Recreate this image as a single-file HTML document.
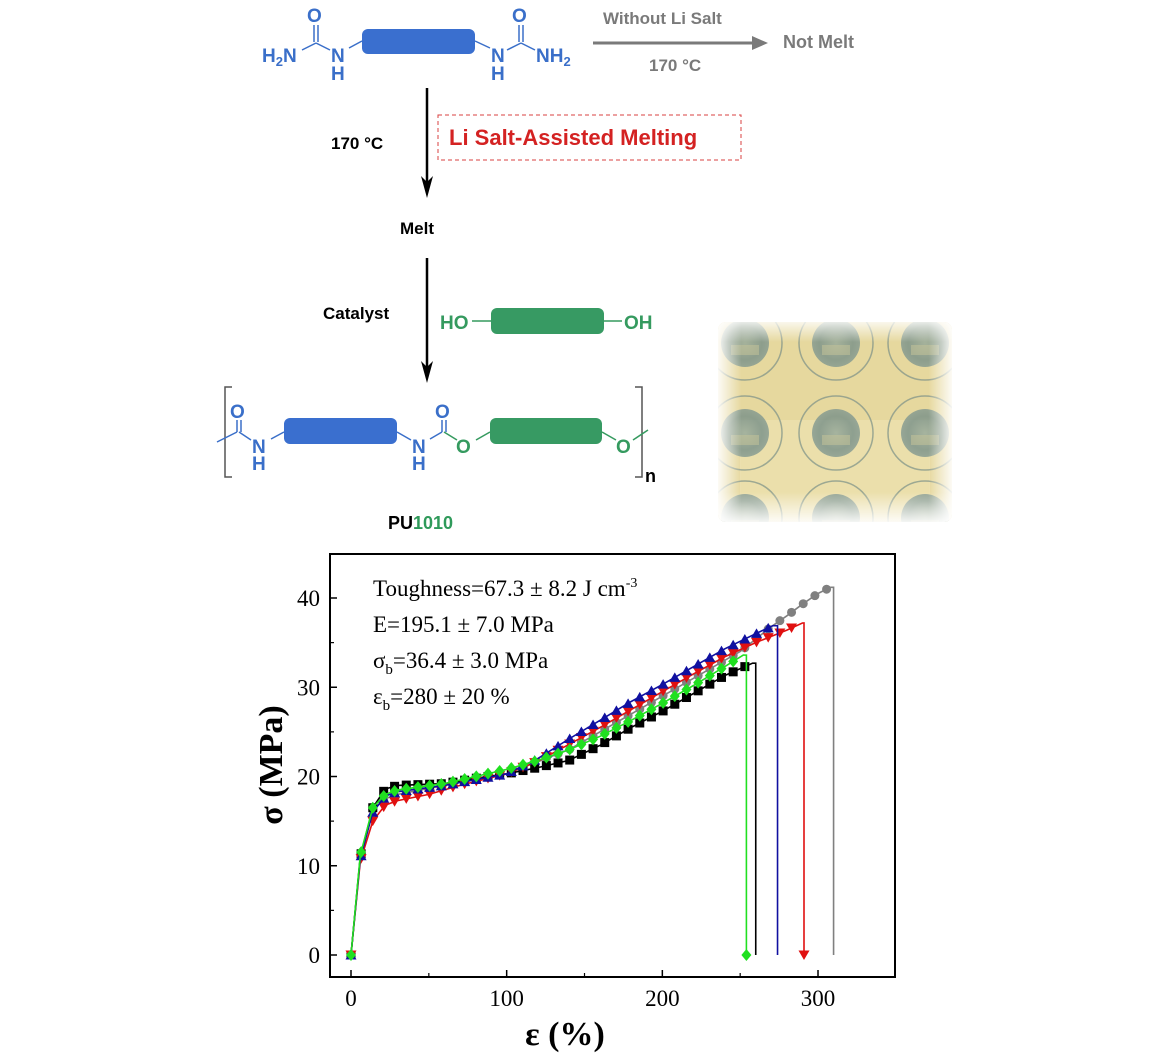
<!DOCTYPE html>
<html><head><meta charset="utf-8"><style>
body{margin:0;background:#fff;width:1166px;height:1060px;overflow:hidden}
svg{display:block}
.sans{font-family:"Liberation Sans",Arial,sans-serif;font-weight:bold}
.serif{font-family:"Liberation Serif","Times New Roman",serif}
</style></head><body>
<svg id="s" width="1166" height="1060" viewBox="0 0 1166 1060" xmlns="http://www.w3.org/2000/svg">
<defs>
<radialGradient id="st" cx="50%" cy="50%" r="50%"><stop offset="0" stop-color="#8fa59a"/><stop offset="0.7" stop-color="#6f8a86"/><stop offset="1" stop-color="#7b948f"/></radialGradient>
<clipPath id="pc"><rect x="718" y="322" width="234" height="200" rx="8"/></clipPath>
<linearGradient id="fl" x1="0" x2="1"><stop offset="0" stop-color="#fff" stop-opacity="0.9"/><stop offset="0.1" stop-color="#fff" stop-opacity="0"/><stop offset="0.9" stop-color="#fff" stop-opacity="0"/><stop offset="1" stop-color="#fff" stop-opacity="0.9"/></linearGradient>
<linearGradient id="fv" x1="0" x2="0" y1="0" y2="1"><stop offset="0" stop-color="#fff" stop-opacity="0.8"/><stop offset="0.1" stop-color="#fff" stop-opacity="0"/><stop offset="0.85" stop-color="#fff" stop-opacity="0"/><stop offset="1" stop-color="#fff" stop-opacity="0.9"/></linearGradient>
</defs>
<!-- top scheme -->
<g class="sans" fill="#3a6fc9" font-size="19">
<rect x="362" y="29" width="113" height="25" rx="6" fill="#3a6fcf"/>
<text x="262" y="62">H<tspan font-size="13" dy="4">2</tspan><tspan dy="-4">N</tspan></text>
<text x="307" y="22">O</text>
<line x1="314" y1="25" x2="314" y2="42" stroke="#3a6fc9" stroke-width="1.5"/><line x1="318" y1="25" x2="318" y2="42" stroke="#3a6fc9" stroke-width="1.5"/>
<line x1="302" y1="50" x2="316" y2="43" stroke="#3a6fc9" stroke-width="1.5"/><line x1="316" y1="43" x2="330" y2="50" stroke="#3a6fc9" stroke-width="1.5"/>
<text x="331" y="62">N</text><text x="331" y="80">H</text>
<line x1="349" y1="48" x2="362" y2="41" stroke="#3a6fc9" stroke-width="1.5"/>
<line x1="475" y1="41" x2="490" y2="48" stroke="#3a6fc9" stroke-width="1.5"/>
<text x="491" y="62">N</text><text x="491" y="80">H</text>
<text x="512" y="22">O</text>
<line x1="519" y1="25" x2="519" y2="42" stroke="#3a6fc9" stroke-width="1.5"/><line x1="523" y1="25" x2="523" y2="42" stroke="#3a6fc9" stroke-width="1.5"/>
<line x1="507" y1="50" x2="521" y2="43" stroke="#3a6fc9" stroke-width="1.5"/><line x1="521" y1="43" x2="535" y2="50" stroke="#3a6fc9" stroke-width="1.5"/>
<text x="536" y="62">NH<tspan font-size="13" dy="4">2</tspan></text>
</g>
<g class="sans" fill="#7a7a7a" font-size="17">
<text x="603" y="24">Without Li Salt</text>
<line x1="593" y1="43" x2="758" y2="43" stroke="#7a7a7a" stroke-width="3"/>
<path d="M752,36 L768,43 L752,50 Z" fill="#7a7a7a"/>
<text x="649" y="71">170 °C</text>
<text x="783" y="48" font-size="18">Not Melt</text>
</g>
<line x1="427" y1="88" x2="427" y2="185" stroke="#000" stroke-width="2.5"/>
<path d="M421,176 L427,198 L433,176 L427,182 Z" fill="#000"/>
<line x1="427" y1="258" x2="427" y2="370" stroke="#000" stroke-width="2.5"/>
<path d="M421,361 L427,383 L433,361 L427,367 Z" fill="#000"/>
<g class="sans" font-size="17" fill="#000">
<text x="331" y="149">170 °C</text>
<text x="400" y="234">Melt</text>
<text x="323" y="319">Catalyst</text>
<text x="645" y="482" font-size="18">n</text>
<text x="388" y="529" font-size="18">PU<tspan fill="#2f9a5a">1010</tspan></text>
</g>
<rect x="438" y="115" width="303" height="45" fill="none" stroke="#d84040" stroke-width="1" stroke-dasharray="4,3"/>
<text class="sans" x="449" y="145" font-size="22" fill="#d42222">Li Salt-Assisted Melting</text>
<g class="sans" fill="#359a5f" font-size="19">
<text x="440" y="329">HO</text><line x1="472" y1="321" x2="491" y2="321" stroke="#359a5f" stroke-width="1.5"/>
<rect x="491" y="308" width="113" height="26" rx="6" fill="#379a63"/>
<line x1="604" y1="321" x2="622" y2="321" stroke="#359a5f" stroke-width="1.5"/><text x="624" y="329">OH</text>
</g>
<!-- polymer -->
<g class="sans" font-size="19" fill="#3a6fc9" stroke-width="1.5">
<path d="M232,387 h-7 v90 h7 M635,387 h7 v90 h-7" fill="none" stroke="#555"/>
<line x1="217" y1="442" x2="237" y2="432" stroke="#3a6fc9"/>
<text x="230" y="418">O</text>
<line x1="237" y1="420" x2="237" y2="432" stroke="#3a6fc9"/><line x1="241" y1="420" x2="241" y2="432" stroke="#3a6fc9"/>
<line x1="239" y1="432" x2="251" y2="440" stroke="#3a6fc9"/>
<text x="252" y="453">N</text><text x="252" y="470">H</text>
<line x1="271" y1="439" x2="284" y2="432" stroke="#3a6fc9"/>
<rect x="284" y="418" width="113" height="26" rx="6" fill="#3a6fcf"/>
<line x1="397" y1="432" x2="411" y2="440" stroke="#3a6fc9"/>
<text x="412" y="453">N</text><text x="412" y="470">H</text>
<line x1="430" y1="439" x2="442" y2="432" stroke="#3a6fc9"/>
<text x="435" y="418">O</text>
<line x1="442" y1="420" x2="442" y2="432" stroke="#3a6fc9"/><line x1="446" y1="420" x2="446" y2="432" stroke="#3a6fc9"/>
<line x1="444" y1="432" x2="457" y2="440" stroke="#359a5f"/>
<text x="456" y="453" fill="#359a5f">O</text>
<line x1="476" y1="440" x2="490" y2="432" stroke="#359a5f"/>
<rect x="490" y="418" width="112" height="26" rx="6" fill="#379a63"/>
<line x1="602" y1="432" x2="616" y2="440" stroke="#359a5f"/>
<text x="616" y="453" fill="#359a5f">O</text>
<line x1="633" y1="440" x2="648" y2="430" stroke="#359a5f"/>
</g>
<!-- photo -->
<g clip-path="url(#pc)">
<rect x="718" y="322" width="234" height="200" fill="#e6d89e"/>
<rect x="740" y="420" width="190" height="100" fill="#efe4b4" opacity="0.6"/>
<g id="stamps"></g>
<rect x="718" y="322" width="234" height="200" fill="url(#fl)"/>
<rect x="718" y="322" width="234" height="200" fill="url(#fv)"/>
</g>
<g id="chart"></g>
</svg>
<script>
var NS="http://www.w3.org/2000/svg";
function el(p,t,a,txt){var e=document.createElementNS(NS,t);for(var k in a)e.setAttribute(k,a[k]);if(txt!==undefined)e.textContent=txt;p.appendChild(e);return e;}
var st=document.getElementById('stamps');
[[745,343],[836,343],[925,343],[745,433],[836,433],[925,433],[745,518],[836,518],[925,518]].forEach(function(c){
 el(st,'circle',{cx:c[0],cy:c[1],r:37,fill:'none',stroke:'#7a9088','stroke-width':1.5,opacity:0.7});
 el(st,'circle',{cx:c[0],cy:c[1],r:24,fill:'url(#st)',opacity:0.75});
 el(st,'rect',{x:c[0]-14,y:c[1]+2,width:28,height:10,fill:'#c8c59a',opacity:0.5});
});
var g=document.getElementById('chart');
var X=function(v){return 351+v*1.5567}, Y=function(v){return 955-v*8.925};
el(g,'rect',{x:330,y:554,width:565,height:423,fill:'none',stroke:'#000','stroke-width':2});
[0,100,200,300].forEach(function(v){el(g,'line',{x1:X(v),y1:977,x2:X(v),y2:970,stroke:'#000','stroke-width':1.5});
 el(g,'text',{x:X(v),y:1006,'text-anchor':'middle','font-size':23,'class':'serif'},v);});
[50,150,250].forEach(function(v){el(g,'line',{x1:X(v),y1:977,x2:X(v),y2:973,stroke:'#000','stroke-width':1.2});});
[0,10,20,30,40].forEach(function(v){el(g,'line',{x1:330,y1:Y(v),x2:337,y2:Y(v),stroke:'#000','stroke-width':1.5});
 el(g,'text',{x:320,y:Y(v)+8,'text-anchor':'end','font-size':23,'class':'serif'},v);});
[5,15,25,35].forEach(function(v){el(g,'line',{x1:330,y1:Y(v),x2:334,y2:Y(v),stroke:'#000','stroke-width':1.2});});
el(g,'text',{x:565,y:1045,'text-anchor':'middle','font-size':34,'font-weight':'bold','class':'serif'},'ε (%)');
el(g,'text',{x:0,y:0,'text-anchor':'middle','font-size':34,'font-weight':'bold','class':'serif',transform:'translate(282,765) rotate(-90)'},'σ (MPa)');
var tx=[['Toughness=67.3 ± 8.2 J cm','-3'],['E=195.1 ± 7.0 MPa'],['σ','b','=36.4 ± 3.0 MPa'],['ε','b','=280 ± 20 %']];
var ty=[596,632,668,704];
tx.forEach(function(t,i){var e=el(g,'text',{x:373,y:ty[i],'font-size':23,'class':'serif'});
 if(i==0){e.appendChild(document.createTextNode(t[0]));el(e,'tspan',{dy:-9,'font-size':14},t[1]);}
 else if(i==1){e.textContent=t[0];}
 else{e.appendChild(document.createTextNode(t[0]));el(e,'tspan',{dy:6,'font-size':15},t[1]);el(e,'tspan',{dy:-6},t[2]);}});
function interp(d,x){for(var i=1;i<d.length;i++){if(x<=d[i][0]){var a=d[i-1],b=d[i];return a[1]+(b[1]-a[1])*(x-a[0])/(b[0]-a[0]);}}return d[d.length-1][1];}
var S=[
 {c:'#808080',m:'c',end:310,bm:false,d:[[0,0],[6,11],[14,16.3],[22,17.5],[30,18],[60,19],[100,20.3],[140,23],[180,27],[220,31],[250,34],[270,36.8],[280,38],[290,39.3],[300,40.5],[308,41.2]]},
 {c:'#000',m:'s',end:260,bm:false,d:[[0,0],[6,11],[14,16.5],[22,18.6],[30,19],[60,19.2],[80,19.8],[100,20.3],[120,21],[140,21.8],[160,23.5],[180,25.5],[200,27.3],[220,29.3],[240,31.3],[258,32.7]]},
 {c:'#e01010',m:'d',end:291,bm:true,d:[[0,0],[6,10.5],[14,15],[22,16.8],[30,17.3],[50,18],[70,19],[100,20.3],[120,21.7],[140,23.6],[160,25.5],[180,27.5],[200,29.5],[220,31.5],[240,33.4],[260,35],[280,36.4],[290,37.2]]},
 {c:'#1010a0',m:'u',end:274,bm:false,d:[[0,0],[6,10.8],[14,16],[22,17.8],[30,18.3],[60,19],[100,20.3],[120,22],[140,24.2],[160,26.3],[180,28.4],[200,30.3],[220,32.3],[240,34.3],[260,36],[271,36.9]]},
 {c:'#20e020',m:'g',end:254,bm:true,d:[[0,0],[6,11.2],[14,16.5],[22,18],[30,18.5],[60,19.2],[80,20],[100,20.8],[120,21.8],[140,23],[160,24.5],[180,26.3],[200,28.2],[220,30.2],[240,32.3],[252,33.6]]}];
function mk(s,x,y){var r=4.5;
 if(s.m=='c')el(g,'circle',{cx:x,cy:y,r:r,fill:s.c});
 else if(s.m=='s')el(g,'rect',{x:x-r,y:y-r,width:2*r,height:2*r,fill:s.c});
 else if(s.m=='d')el(g,'path',{d:'M'+(x-5.5)+','+(y-4.5)+'h11l-5.5,9.5z',fill:s.c});
 else if(s.m=='u')el(g,'path',{d:'M'+(x-5.5)+','+(y+4.5)+'h11l-5.5,-9.5z',fill:s.c});
 else el(g,'path',{d:'M'+x+','+(y-6)+'l5,6l-5,6l-5,-6z',fill:s.c});}
S.forEach(function(s){var d=s.d,last=d[d.length-1];
 var p='M'+d.map(function(q){return X(q[0]).toFixed(1)+','+Y(q[1]).toFixed(1);}).join('L');
 p+='L'+X(s.end)+','+Y(last[1])+'L'+X(s.end)+','+Y(0);
 el(g,'path',{d:p,fill:'none',stroke:s.c,'stroke-width':1.6});
 var xs=[0,6.5,14,21];for(var x=28;x<=last[0];x+=7.5)xs.push(x);
 xs.forEach(function(x){mk(s,X(x),Y(interp(d,x)));});
 if(s.bm)mk(s,X(s.end),Y(0));});
</script>
</body></html>
